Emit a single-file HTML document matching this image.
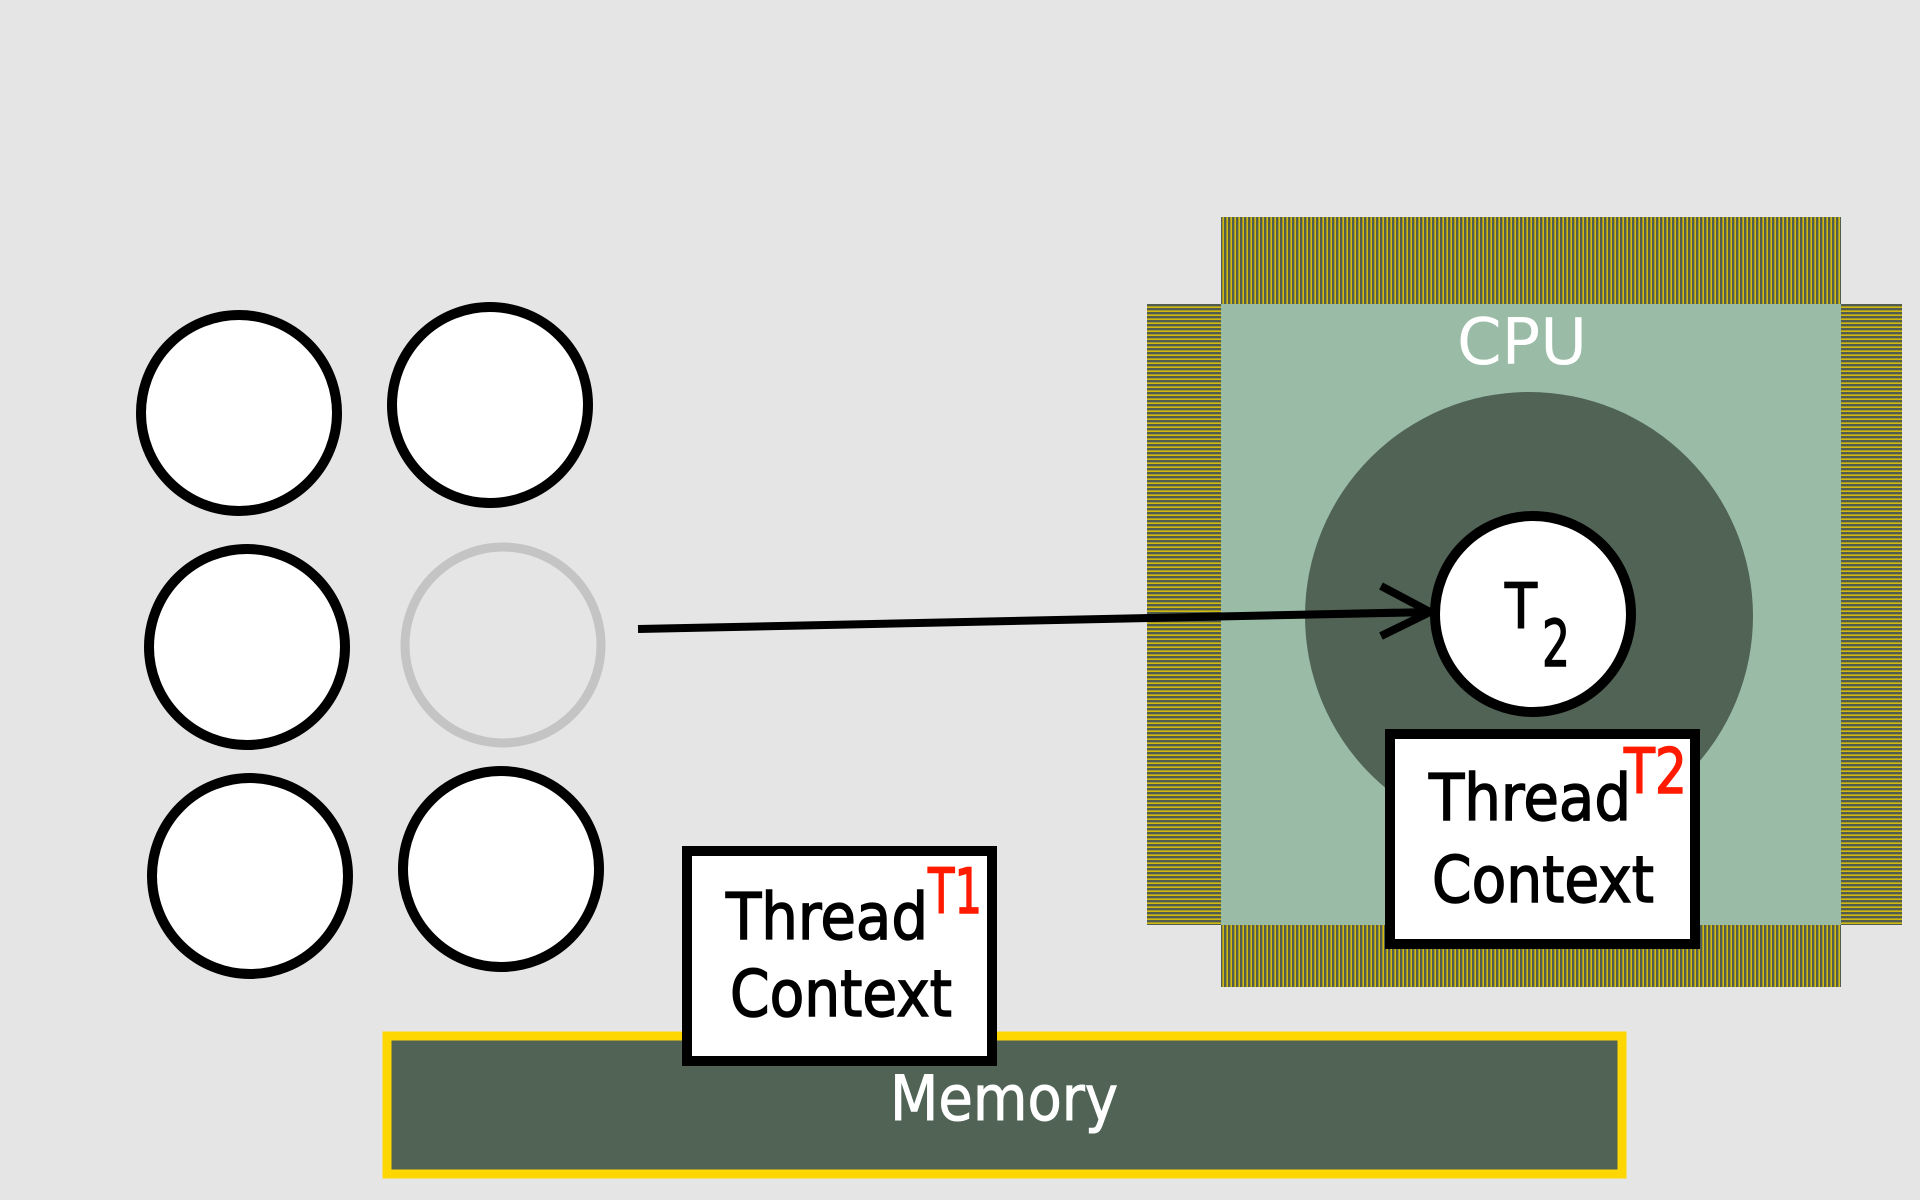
<!DOCTYPE html>
<html><head><meta charset="utf-8"><style>
html,body{margin:0;padding:0;background:#e5e5e5;}
svg{display:block;}
text{font-family:"DejaVu Sans","Liberation Sans",sans-serif;}
</style></head><body>
<svg width="1920" height="1200" viewBox="0 0 1920 1200" xmlns="http://www.w3.org/2000/svg">
<defs>
<pattern id="pv" width="4" height="4" patternUnits="userSpaceOnUse"><rect width="4" height="4" fill="#525d50"/><rect x="2.5" width="1.3" height="4" fill="#f0d000"/></pattern>
<pattern id="ph" width="4" height="4" patternUnits="userSpaceOnUse"><rect width="4" height="4" fill="#525d50"/><rect y="2.5" width="4" height="1.3" fill="#f0d000"/></pattern>
</defs>
<rect width="1920" height="1200" fill="#e5e5e5"/>
<rect x="1221" y="217" width="620" height="88" fill="url(#pv)"/>
<rect x="1221" y="925" width="620" height="62" fill="url(#pv)"/>
<rect x="1147" y="304" width="74" height="621" fill="url(#ph)"/>
<rect x="1841" y="304" width="61" height="621" fill="url(#ph)"/>
<rect x="1221" y="304" width="620" height="621" fill="#9abca7"/>
<text x="1522" y="364" font-size="64" fill="#fff" text-anchor="middle">CPU</text>
<circle cx="1529" cy="616" r="224" fill="#506355"/>
<g fill="#fff" stroke="#000" stroke-width="10">
<circle cx="239" cy="413" r="98"/>
<circle cx="490" cy="405" r="98"/>
<circle cx="247" cy="647" r="98"/>
<circle cx="250" cy="876" r="98"/>
<circle cx="501" cy="869" r="98"/>
</g>
<circle cx="503" cy="645" r="98" fill="none" stroke="#c4c4c4" stroke-width="9"/>
<circle cx="1533" cy="614" r="98" fill="#fff" stroke="#000" stroke-width="10"/>
<g stroke="#000" stroke-width="1.5">
<text x="1505" y="628" font-size="62" fill="#000" textLength="32" lengthAdjust="spacingAndGlyphs">T</text>
<text x="1542" y="666" font-size="64" fill="#000" textLength="28" lengthAdjust="spacingAndGlyphs">2</text>
</g>
<g stroke="#000" stroke-width="8" fill="none">
<line x1="638" y1="629" x2="1430" y2="612"/>
<polyline points="1381,586 1430,612 1381,636"/>
</g>
<rect x="387" y="1036" width="1235" height="138" fill="#506355" stroke="#ffd700" stroke-width="9"/>
<text x="890" y="1120" font-size="62" fill="#fff" stroke="#fff" stroke-width="1" textLength="228" lengthAdjust="spacingAndGlyphs">Memory</text>
<rect x="687" y="851" width="305" height="210" fill="#fff" stroke="#000" stroke-width="10"/>
<g stroke="#000" stroke-width="1.5">
<text x="726" y="939" font-size="64" fill="#000" textLength="202" lengthAdjust="spacingAndGlyphs">Thread</text>
<text x="730" y="1016" font-size="64" fill="#000" textLength="222" lengthAdjust="spacingAndGlyphs">Context</text>
</g>
<text x="928" y="913" font-size="62" fill="#ff1a00" stroke="#ff1a00" stroke-width="1.5" textLength="54" lengthAdjust="spacingAndGlyphs">T1</text>
<rect x="1390" y="734" width="305" height="210" fill="#fff" stroke="#000" stroke-width="10"/>
<g stroke="#000" stroke-width="1.5">
<text x="1429" y="820" font-size="64" fill="#000" textLength="202" lengthAdjust="spacingAndGlyphs">Thread</text>
<text x="1432" y="902" font-size="64" fill="#000" textLength="222" lengthAdjust="spacingAndGlyphs">Context</text>
</g>
<text x="1624" y="793" font-size="62" fill="#ff1a00" stroke="#ff1a00" stroke-width="1.5" textLength="63" lengthAdjust="spacingAndGlyphs">T2</text>
</svg>
</body></html>
